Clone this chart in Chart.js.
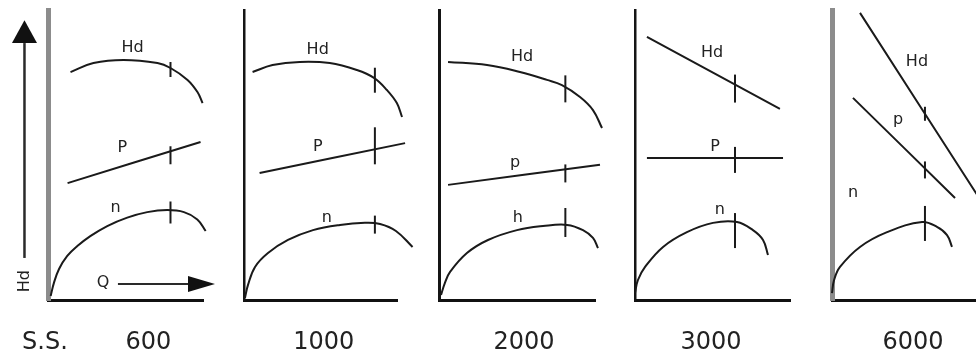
<!DOCTYPE html>
<html>
<head>
<meta charset="utf-8">
<script src="https://cdn.jsdelivr.net/npm/chart.js@4/dist/chart.umd.min.js"></script>
<style>
  html, body { margin: 0; padding: 0; background: #fff; }
  #wrap { position: relative; width: 976px; height: 360px; overflow: hidden; background: #fff; }
  #wrap canvas { position: absolute; left: 0; top: 0; }
</style>
</head>
<body>
<div id="wrap"></div>
<script>
// Specific speed (S.S.) of each pump family, one panel per value
const specificSpeeds = ['600', '1000', '2000', '3000', '6000'];

// Flow Q as % of each panel's flow axis; curve values as % of the vertical axis
const hdQ = [
  [14.2, 29.0, 48.4, 70.3, 78.7, 89.7, 96.1, 99.4],
  [5.3, 18.4, 36.2, 55.9, 73.7, 84.9, 93.4, 99.9, 103.3],
  [5.8, 30.8, 51.9, 69.2, 78.8, 90.4, 98.7, 104.5],
  [7.7, 93.5],
  [17.5, 95.0]
];
const hdVal = [
  [78.6, 81.7, 82.8, 81.7, 80.0, 75.9, 71.7, 67.9],
  [78.6, 81.0, 82.1, 81.7, 79.3, 76.6, 72.4, 67.9, 63.1],
  [82.1, 81.0, 78.6, 75.9, 74.1, 70.0, 65.5, 59.3],
  [90.7, 65.9],
  [99.0, 32.6]
];

const pQ = [[12.3, 98.1], [9.9, 105.3], [5.8, 103.2], [7.7, 95.5], [13.1, 76.9]];
const pVal = [[40.3, 54.5], [43.8, 54.1], [39.7, 46.6], [49.0, 49.0], [69.7, 35.2]];

const nQ = [
  [1.4, 3.5, 6.8, 12.1, 18.6, 27.2, 37.9, 50.8, 63.7, 76.6, 87.4, 96.0, 101.4],
  [0.3, 2.3, 6.9, 15.4, 28.5, 44.9, 62.6, 79.0, 88.9, 99.3, 110.2],
  [1.3, 3.8, 7.1, 17.9, 31.4, 50.0, 66.7, 82.1, 92.3, 98.7, 101.9],
  [0.0, 1.9, 6.5, 18.1, 33.5, 50.3, 65.8, 76.1, 82.6, 85.8],
  [0.0, 1.3, 5.0, 17.5, 34.4, 56.3, 65.6, 71.9, 75.0]
];
const nVal = [
  [1.4, 5.9, 10.7, 15.2, 18.6, 22.1, 25.5, 28.4, 30.3, 31.0, 30.3, 27.8, 23.8],
  [0.7, 5.2, 11.4, 16.2, 20.7, 24.1, 25.9, 26.6, 26.2, 23.8, 18.3],
  [1.7, 5.9, 9.7, 16.2, 20.7, 24.1, 25.5, 25.9, 24.1, 21.4, 17.9],
  [2.4, 6.9, 11.4, 18.3, 23.4, 26.6, 26.9, 24.1, 20.7, 15.5],
  [2.4, 6.9, 11.4, 18.3, 23.4, 26.9, 25.2, 22.4, 18.3]
];

// Best efficiency flow of each pump (% of flow axis)
const bepQ = [78.7, 85.5, 81.0, 64.5, 58.1];

// Curve names as printed in each panel
const curveNames = [
  ['Hd', 'P', 'n'],
  ['Hd', 'P', 'n'],
  ['Hd', 'p', 'h'],
  ['Hd', 'P', 'n'],
  ['Hd', 'p', 'n']
];

// ---- layout and styling ----
const CANVAS_W = 1000;
const panelLayout = [
  { x0: 48.5,  len: 155,   axisColor: '#8c8c8c', axisWidth: 5,
    names: [[54.2, 86.9], [47.7, 52.4], [43.2, 31.7]], speedQ: 64.5,
    ticks: [[6, 9], [5, 13], [9, 13]] },
  { x0: 244.5, len: 152.5, axisColor: '#151515', axisWidth: 2.5,
    names: [[48.0, 86.2], [48.0, 52.8], [53.9, 28.3]], speedQ: 52.0,
    ticks: [[11, 14], [22, 15], [8, 10]] },
  { x0: 439,   len: 156,   axisColor: '#151515', axisWidth: 3,
    names: [[53.2, 83.8], [48.7, 47.2], [50.6, 28.3]], speedQ: 54.5,
    ticks: [[12, 15], [5, 13], [17, 12]] },
  { x0: 635,   len: 155,   axisColor: '#151515', axisWidth: 2.5,
    names: [[49.7, 85.2], [51.6, 52.8], [54.8, 31.0]], speedQ: 49.0,
    ticks: [[10, 18], [11, 15], [9, 26]] },
  { x0: 832,   len: 160,   axisColor: '#8c8c8c', axisWidth: 5,
    names: [[53.1, 82.1], [41.3, 62.1], [13.1, 36.9]], speedQ: 50.6,
    ticks: [[7, 7], [7, 10], [17, 18]] }
];
const INK = '#1a1a1a';
const TEXT = '#222';
const FONT = '"DejaVu Sans", Verdana, sans-serif';

// value of a polyline at a given flow
function valueAt(points, q) {
  for (let k = 0; k < points.length - 1; k++) {
    const a = points[k], b = points[k + 1];
    if (q >= a.x && q <= b.x) return a.y + (b.y - a.y) * (q - a.x) / (b.x - a.x);
  }
  return points[points.length - 1].y;
}

function arrowHead(ctx, tipX, tipY, baseX, baseY, half) {
  const dx = tipX - baseX, dy = tipY - baseY;
  const l = Math.hypot(dx, dy), nx = -dy / l, ny = dx / l;
  ctx.beginPath();
  ctx.moveTo(tipX, tipY);
  ctx.lineTo(baseX + nx * half, baseY + ny * half);
  ctx.lineTo(baseX - nx * half, baseY - ny * half);
  ctx.closePath();
  ctx.fill();
}

// BEP ticks, curve names, speed label and (first panel) the axis arrows
const panelMarks = {
  id: 'panelMarks',
  afterDatasetsDraw(chart, args, opts) {
    const { ctx, scales: { x, y }, chartArea } = chart;
    const px = q => x.getPixelForValue(q);
    const py = v => y.getPixelForValue(v);
    ctx.save();

    ctx.strokeStyle = INK;
    ctx.lineWidth = 2;
    chart.data.datasets.forEach((ds, k) => {
      const X = px(opts.bep), Y = py(valueAt(ds.data, opts.bep));
      const span = opts.ticks[k];
      ctx.beginPath();
      ctx.moveTo(X, Y - span[0]);
      ctx.lineTo(X, Y + span[1]);
      ctx.stroke();
    });

    ctx.fillStyle = TEXT;
    ctx.textAlign = 'center';
    ctx.textBaseline = 'middle';
    ctx.font = '16px ' + FONT;
    opts.names.forEach((name, k) => {
      const p = opts.namePos[k];
      ctx.fillText(name, px(p[0]), py(p[1]));
    });

    ctx.font = '24px ' + FONT;
    ctx.fillText(opts.speed, px(opts.speedQ), chartArea.bottom + 43);

    if (opts.axisArrows) {
      // S.S. caption
      ctx.fillText('S.S.', px(-2.3), chartArea.bottom + 43);

      // vertical arrow for Hd
      const ax = px(-15.5);
      ctx.strokeStyle = '#2a2a2a';
      ctx.lineWidth = 2.5;
      ctx.beginPath();
      ctx.moveTo(ax, py(14.5));
      ctx.lineTo(ax, py(88.6));
      ctx.stroke();
      ctx.fillStyle = '#111';
      arrowHead(ctx, ax, py(96.5), ax, py(88.6), 12.5);

      ctx.save();
      ctx.translate(ax, py(6.5));
      ctx.rotate(-Math.PI / 2);
      ctx.fillStyle = TEXT;
      ctx.font = '16px ' + FONT;
      ctx.fillText('Hd', 0, 0);
      ctx.restore();

      // horizontal arrow for Q
      ctx.fillStyle = TEXT;
      ctx.font = '16px ' + FONT;
      ctx.fillText('Q', px(35.2), py(5.9));
      ctx.strokeStyle = '#2a2a2a';
      ctx.lineWidth = 2;
      ctx.beginPath();
      ctx.moveTo(px(44.8), py(5.5));
      ctx.lineTo(px(91), py(5.5));
      ctx.stroke();
      ctx.fillStyle = '#111';
      arrowHead(ctx, px(107.4), py(5.5), px(90), py(5.5), 8);
    }
    ctx.restore();
  }
};

const wrap = document.getElementById('wrap');
const toPoints = (qs, vs) => qs.map((q, k) => ({ x: q, y: vs[k] }));

specificSpeeds.forEach((speed, i) => {
  const L = panelLayout[i];
  const canvas = document.createElement('canvas');
  canvas.width = CANVAS_W;
  canvas.height = 360;
  wrap.appendChild(canvas);

  const curve = (label, data) => ({
    label, data, clip: false,
    borderColor: INK, borderWidth: 2, pointRadius: 0,
    tension: 0.4, cubicInterpolationMode: 'default', fill: false
  });

  new Chart(canvas, {
    type: 'line',
    data: {
      datasets: [
        curve('Hd', toPoints(hdQ[i], hdVal[i])),
        curve('P', toPoints(pQ[i], pVal[i])),
        curve('n', toPoints(nQ[i], nVal[i]))
      ]
    },
    options: {
      responsive: false,
      animation: false,
      devicePixelRatio: 1,
      events: [],
      layout: { padding: { left: L.x0, right: CANVAS_W - L.x0 - L.len, top: 10, bottom: 60 } },
      plugins: {
        legend: { display: false },
        tooltip: { enabled: false },
        panelMarks: {
          bep: bepQ[i],
          ticks: L.ticks,
          names: curveNames[i],
          namePos: L.names,
          speed: speed,
          speedQ: L.speedQ,
          axisArrows: i === 0
        }
      },
      scales: {
        x: {
          type: 'linear', min: 0, max: 100,
          grid: { display: false, drawTicks: false },
          ticks: { display: false },
          border: { display: true, color: '#111', width: 3 },
          afterFit(s) { s.height = 0; }
        },
        y: {
          type: 'linear', min: 0, max: 100,
          grid: { display: false, drawTicks: false },
          ticks: { display: false },
          border: { display: true, color: L.axisColor, width: L.axisWidth },
          afterFit(s) { s.width = 0; }
        }
      }
    },
    plugins: [panelMarks]
  });
});
</script>
</body>
</html>
